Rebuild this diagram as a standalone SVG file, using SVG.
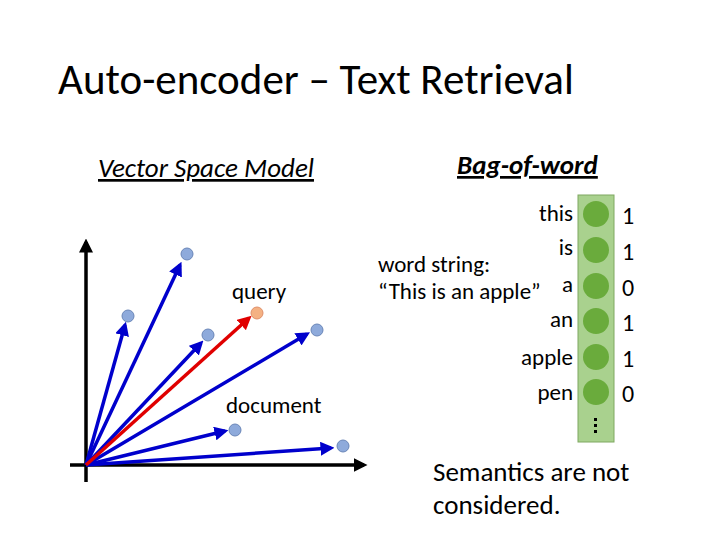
<svg xmlns="http://www.w3.org/2000/svg" width="720" height="540" viewBox="0 0 720 540">
<style>
text{font-family:Calibri,Carlito,"Liberation Sans",sans-serif;fill:#000}
.v{stroke:#0000cc;stroke-width:3.5;marker-end:url(#b)}
.pt{fill:#8eaadb;stroke:#6a86b8;stroke-width:1}
.g{fill:#6aab3c}
.t{font-size:23px}
.n{font-size:24px}
</style>
<defs>
<marker id="b" markerWidth="4" markerHeight="4" refX="3" refY="2" orient="auto"><path d="M0,0L4,2L0,4z" fill="#0000cc"/></marker>
<marker id="r" markerWidth="4" markerHeight="4" refX="3" refY="2" orient="auto"><path d="M0,0L4,2L0,4z" fill="#e00000"/></marker>
<marker id="k" markerWidth="4" markerHeight="4" refX="3" refY="2" orient="auto"><path d="M0,0L4,2L0,4z" fill="#000"/></marker>
</defs>
<text x="58" y="94" font-size="43" fill="#222" font-weight="300">Auto-encoder – Text Retrieval</text>
<text x="98" y="177" font-size="27" font-style="italic" text-decoration="underline">Vector Space Model</text>
<text x="457" y="174" font-size="27" font-weight="bold" font-style="italic" text-decoration="underline">Bag-of-word</text>
<g id="axes" stroke="#000" stroke-width="3.5">
<line x1="86" y1="482" x2="86" y2="242" marker-end="url(#k)"/>
<line x1="70" y1="465" x2="364" y2="465" marker-end="url(#k)"/>
</g>
<g id="connectors">
<line class="v" x1="86" y1="465" x2="180" y2="265"/>
<line class="v" x1="86" y1="465" x2="125" y2="325"/>
<line class="v" x1="86" y1="465" x2="201" y2="343"/>
<line class="v" x1="86" y1="465" x2="307" y2="334"/>
<line class="v" x1="86" y1="465" x2="225" y2="431"/>
<line class="v" x1="86" y1="465" x2="331" y2="448"/>
<line x1="86" y1="465" x2="249" y2="318" stroke="#e00000" stroke-width="3.5" marker-end="url(#r)"/>
</g>
<g id="points">
<circle class="pt" cx="187" cy="254" r="6"/>
<circle class="pt" cx="128" cy="316" r="6"/>
<circle class="pt" cx="208" cy="335" r="6"/>
<circle cx="257" cy="313" r="6" fill="#f4b183" stroke="#e0906a"/>
<circle class="pt" cx="317" cy="330" r="6"/>
<circle class="pt" cx="235" cy="430" r="6"/>
<circle class="pt" cx="343" cy="446" r="6"/>
</g>
<text x="232" y="299" class="t">query</text>
<text x="226" y="413" class="t">document</text>
<text x="378" y="272" class="t">word string:</text>
<text x="378" y="299" class="t">“This is an apple”</text>
<g id="bag">
<rect x="578" y="195" width="36" height="247" fill="#a9d18e" stroke="#7fa860" stroke-width="1"/>
<circle class="g" cx="596" cy="214" r="13"/>
<circle class="g" cx="596" cy="250" r="13"/>
<circle class="g" cx="596" cy="286" r="13"/>
<circle class="g" cx="596" cy="321" r="13"/>
<circle class="g" cx="596" cy="357" r="13"/>
<circle class="g" cx="596" cy="392" r="13"/>
<g fill="#000"><rect x="594" y="418" width="3" height="3"/><rect x="594" y="424" width="3" height="3"/><rect x="594" y="430" width="3" height="3"/></g>
</g>
<text x="573" y="221" class="t" text-anchor="end">this</text>
<text x="573" y="255" class="t" text-anchor="end">is</text>
<text x="573" y="292" class="t" text-anchor="end">a</text>
<text x="573" y="327" class="t" text-anchor="end">an</text>
<text x="573" y="365" class="t" text-anchor="end">apple</text>
<text x="573" y="400" class="t" text-anchor="end">pen</text>
<text x="622" y="224" class="n">1</text>
<text x="622" y="260" class="n">1</text>
<text x="622" y="296" class="n">0</text>
<text x="622" y="331" class="n">1</text>
<text x="622" y="367" class="n">1</text>
<text x="622" y="402" class="n">0</text>
<text x="433" y="481" font-size="27">Semantics are not</text>
<text x="433" y="514" font-size="27">considered.</text>
</svg>
